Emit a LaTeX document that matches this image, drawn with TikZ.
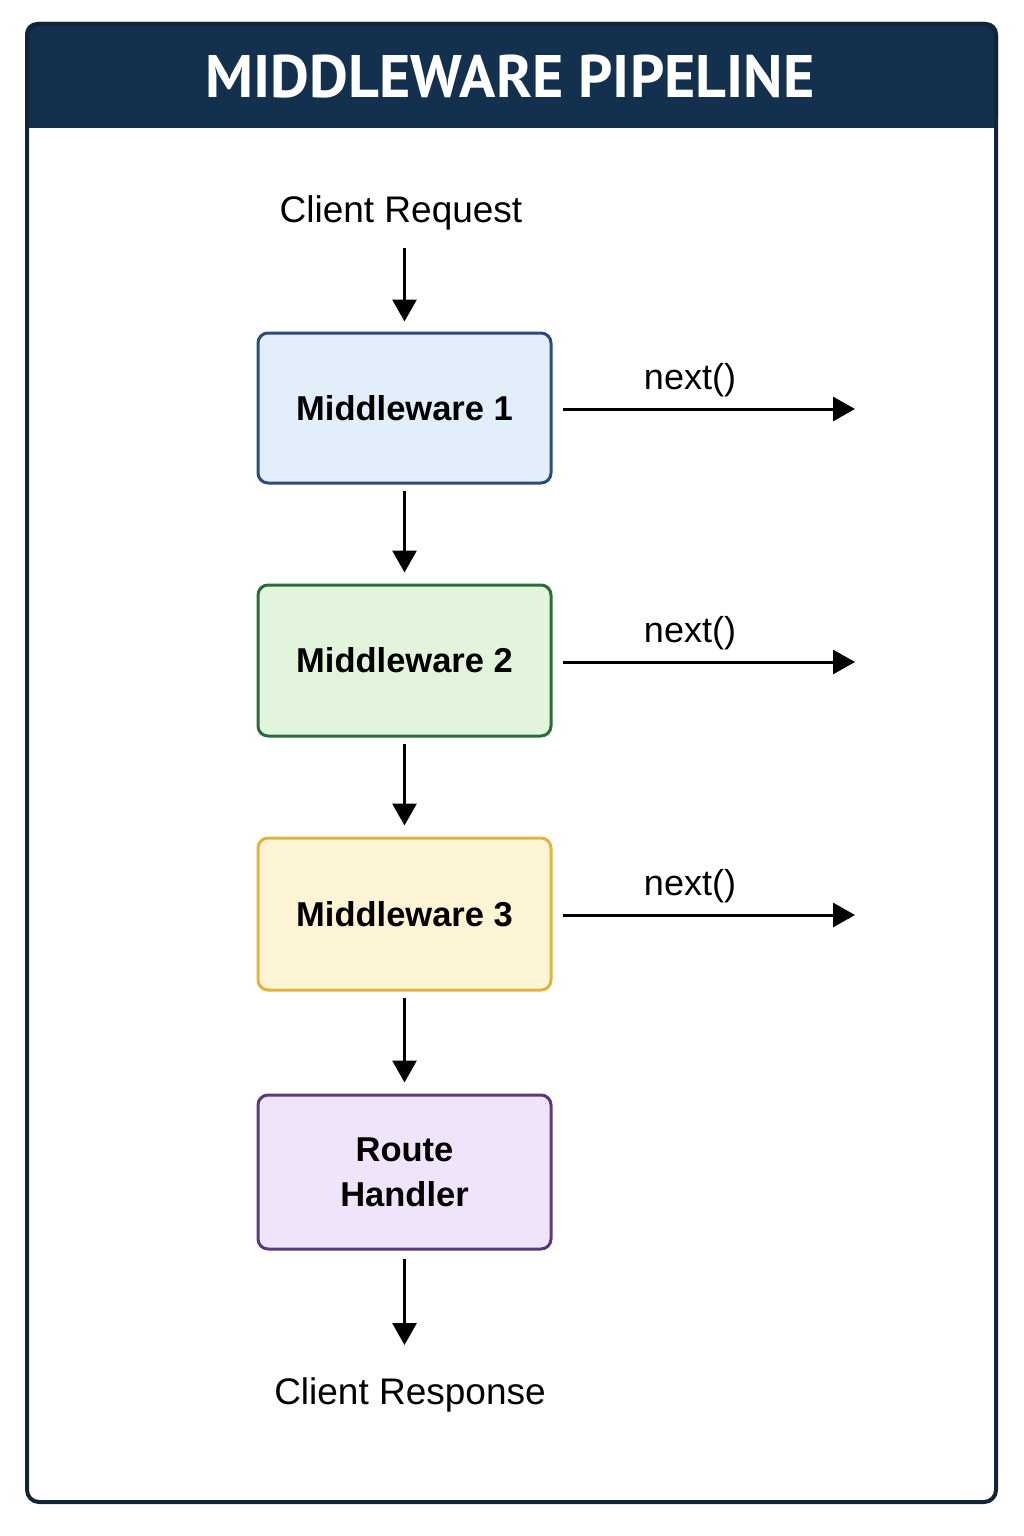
\documentclass[tikz,border=0pt]{standalone}
\usepackage{fontspec}
\setmainfont{Liberation Sans}
\newfontfamily\titlefont{PT Sans}
\usetikzlibrary{arrows.meta}
\definecolor{navy}{HTML}{14304F}
\definecolor{frameedge}{HTML}{10243A}
\definecolor{bluefill}{HTML}{E3EEFB}
\definecolor{blueedge}{HTML}{2B4C80}
\definecolor{greenfill}{HTML}{E2F5DC}
\definecolor{greenedge}{HTML}{2E6B3A}
\definecolor{goldfill}{HTML}{FDF4D6}
\definecolor{goldedge}{HTML}{E0B53A}
\definecolor{purplefill}{HTML}{F0E4FA}
\definecolor{purpleedge}{HTML}{5B3A7A}
\begin{document}
\begin{tikzpicture}[x=1pt,y=-1pt,
  box/.style={draw, line width=3pt, rounded corners=10pt, minimum width=293pt, minimum height=150pt, inner sep=0pt, align=center, font=\fontsize{34.5}{45}\selectfont\bfseries},
  plain/.style={inner sep=0pt, font=\fontsize{37}{44}\selectfont},
  nextlbl/.style={inner sep=0pt, font=\fontsize{36}{42}\selectfont},
  flow/.style={line width=3pt, -{Triangle[length=22pt,width=24pt]}}]
\useasboundingbox (0,0) rectangle (1024,1536);
\fill[white] (0,0) rectangle (1024,1536);
% frame
\fill[navy, rounded corners=12pt] (25,22) rectangle (998,128);
\fill[navy] (25,100) rectangle (998,128);
\draw[frameedge, line width=4pt, rounded corners=12pt] (27,24) rectangle (996,1502);
\node[inner sep=0pt, text=white, font=\titlefont\fontsize{60}{62}\selectfont\bfseries] (title) at (510,77) {MIDDLEWARE PIPELINE};
% nodes
\node[plain] (req) at (401,213) {Client Request};
\node[box, fill=bluefill, draw=blueedge] (m1) at (404.5,408) {Middleware 1};
\node[box, fill=greenfill, draw=greenedge, minimum height=151pt] (m2) at (404.5,660.5) {Middleware 2};
\node[box, fill=goldfill, draw=goldedge, minimum height=152pt] (m3) at (404.5,914) {Middleware 3};
\node[box, fill=purplefill, draw=purpleedge, minimum height=154pt] (rh) at (404.5,1172) {Route\\Handler};
\node[plain] (resp) at (410,1395) {Client Response};
% vertical flow
\coordinate (reqend) at (m1.north |- 0,248);
\draw[flow, shorten >=10pt] (reqend) -- (m1.north);
\draw[flow, shorten <=6pt, shorten >=11pt] (m1.south) -- (m2.north);
\draw[flow, shorten <=6pt, shorten >=11pt] (m2.south) -- (m3.north);
\draw[flow, shorten <=6pt, shorten >=11pt] (m3.south) -- (rh.north);
\coordinate (respend) at (rh.south |- 0,1345);
\draw[flow, shorten <=8pt] (rh.south) -- (respend);
% next arrows
\foreach \n/\y in {m1/409,m2/662,m3/915}{
  \coordinate (\n-s) at (563,\y);
  \coordinate (\n-e) at (855,\y);
  \draw[flow] (\n-s) -- (\n-e);
  \node[nextlbl] (\n-lbl) at (690,\y-29) {next()};
}
\end{tikzpicture}
\end{document}
